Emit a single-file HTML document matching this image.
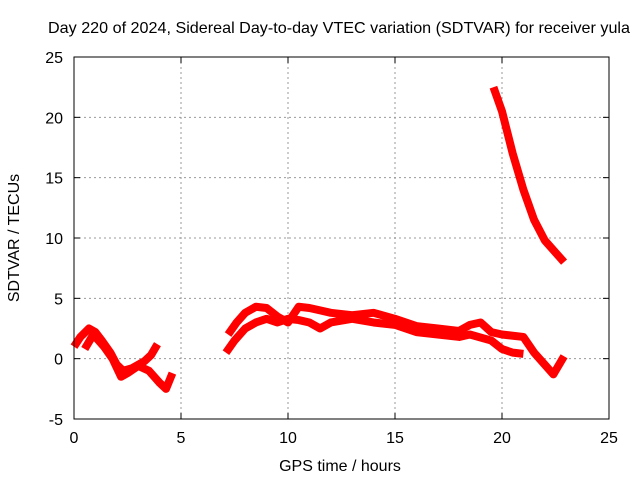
<!DOCTYPE html>
<html><head><meta charset="utf-8"><style>
body{margin:0;background:#fff;font-family:"Liberation Sans",sans-serif}
text{font-family:"Liberation Sans",sans-serif;font-size:16px;fill:#000}
</style></head><body>
<svg width="640" height="480" id="chart">
<text x="339" y="33" text-anchor="middle" textLength="582" lengthAdjust="spacingAndGlyphs">Day 220 of 2024, Sidereal Day-to-day VTEC variation (SDTVAR) for receiver yula</text>
<text x="340" y="471" text-anchor="middle">GPS time / hours</text>
<text transform="translate(19,238) rotate(-90)" text-anchor="middle">SDTVAR / TECUs</text>
<g id="grid"></g><g id="series"></g>
<rect x="74" y="57" width="535" height="362" fill="none" stroke="#000"/>
<g id="ticks"></g>
</svg>
<script>
const xTicks=[0,5,10,15,20,25];
const yTicks=[-5,0,5,10,15,20,25];
const trackA1=[[0,1.0],[0.3,1.8],[0.7,2.5],[1.0,2.2],[1.3,1.5],[1.7,0.5],[2.0,-0.5],[2.3,-1.0],[2.7,-0.8],[3.0,-0.5],[3.3,-0.2],[3.6,0.3],[3.9,1.2]];
const trackA2=[[0.5,0.8],[0.9,2.0],[1.4,1.0],[1.8,0.0],[2.2,-1.5],[2.5,-1.2],[3.0,-0.6],[3.5,-1.0],[4.0,-2.0],[4.3,-2.5],[4.6,-1.2]];
const trackB1=[[7.2,2.0],[7.6,3.0],[8.0,3.8],[8.5,4.3],[9.0,4.2],[9.5,3.5],[10.0,3.0],[10.5,4.3],[11,4.2],[11.5,4.0],[12,3.8],[13,3.6],[14,3.8],[15,3.3],[16,2.7],[17,2.5],[18,2.3],[18.5,2.8],[19,3.0],[19.5,2.2],[20,2.0],[21,1.8],[21.5,0.5],[22,-0.5],[22.4,-1.3],[22.9,0.2]];
const trackB2=[[7.1,0.5],[7.5,1.5],[8.0,2.5],[8.5,3.0],[9.0,3.3],[9.5,3.0],[10.0,3.3],[10.5,3.2],[11.0,3.0],[11.5,2.5],[12,3.0],[13,3.3],[14,3.0],[15,2.8],[16,2.2],[17,2.0],[18,1.8],[18.5,2.0],[19.5,1.5],[20,0.8],[20.5,0.5],[21,0.4]];
const trackC=[[19.6,22.5],[20,20.5],[20.5,17],[21,14],[21.5,11.5],[22,9.8],[22.5,8.8],[22.9,8.0]];
const X=h=>74+h*535/25, Y=v=>57+(25-v)*362/30;
const NS="http://www.w3.org/2000/svg";
const g=document.getElementById('grid'),t=document.getElementById('ticks'),s=document.getElementById('series');
function mk(tag,p,a){const e=document.createElementNS(NS,tag);for(const k in a)e.setAttribute(k,a[k]);p.appendChild(e);return e;}
xTicks.forEach(v=>{
 if(v>0&&v<25){const l=mk('line',g,{x1:X(v),x2:X(v),y1:57,y2:419,stroke:'#999','stroke-dasharray':'2,3'});
 
 }
 mk('line',t,{x1:X(v),x2:X(v),y1:419,y2:413,stroke:'#000'});mk('line',t,{x1:X(v),x2:X(v),y1:57,y2:63,stroke:'#000'});
 const tx=mk('text',t,{x:X(v),y:443,'text-anchor':'middle'});tx.textContent=v;
 
 
});
yTicks.forEach(v=>{
 if(v>-5&&v<25){const l=mk('line',g,{x1:74,x2:609,y1:Y(v),y2:Y(v),stroke:'#999','stroke-dasharray':'2,3'});
 
 }
 mk('line',t,{x1:74,x2:80,y1:Y(v),y2:Y(v),stroke:'#000'});mk('line',t,{x1:609,x2:603,y1:Y(v),y2:Y(v),stroke:'#000'});
 const tx=mk('text',t,{x:63,y:Y(v)+6,'text-anchor':'end'});tx.textContent=v;
 
 
});
[trackA1,trackA2,trackB1,trackB2,trackC].forEach(tr=>{
 const p=mk('polyline',s,{points:tr.map(d=>X(d[0])+','+Y(d[1])).join(' '),fill:'none',stroke:'#f00','stroke-width':8,'stroke-linejoin':'round'});
 
 
});
</script>
</body></html>
